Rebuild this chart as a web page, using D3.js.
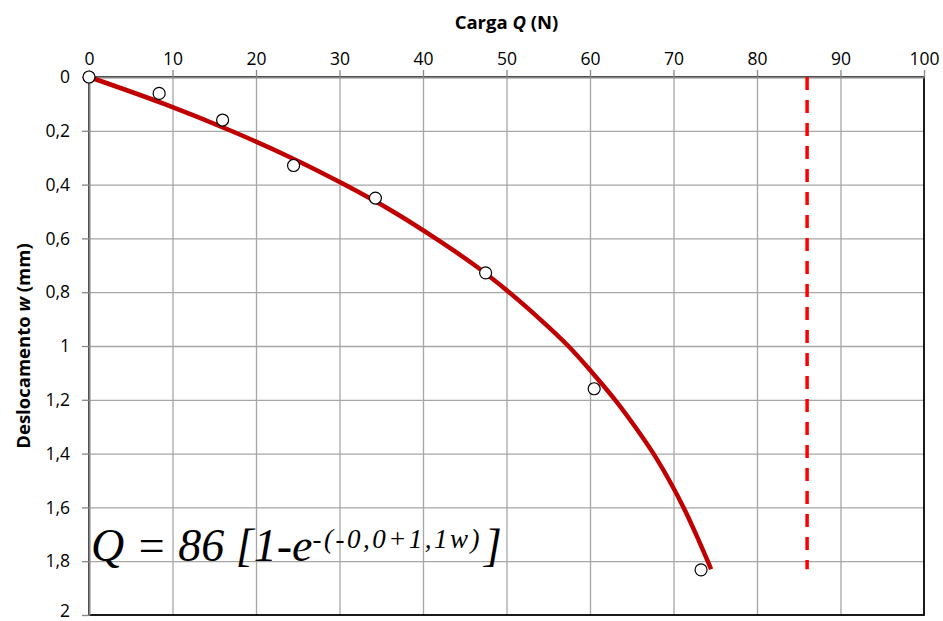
<!DOCTYPE html>
<html>
<head>
<meta charset="utf-8">
<script src="https://cdn.jsdelivr.net/npm/d3@7"></script>
<style>
  body { margin: 0; background: #fff; }
  .tick text { font-family: "Open Sans", sans-serif; font-size: 17.5px; fill: #000; }
</style>
</head>
<body>
<script>
// chart size and margins (plot box from ~89,77 to ~924,615)
var width = 943,
	height = 621,
	margin = {top: 77, right: 19, bottom: 6, left: 89};

// measured points: load Q (N) and displacement w (mm)
var cargaQ = [0, 8.4, 16.0, 24.5, 34.3, 47.5, 60.5, 73.3];
var deslocW = [0, 0.061, 0.160, 0.329, 0.450, 0.728, 1.159, 1.832];

// fitted curve
var curvaW = [0, 0.1, 0.2, 0.3, 0.4, 0.5, 0.6, 0.7, 0.8, 0.9, 1.0, 1.1, 1.2, 1.3, 1.4, 1.5, 1.6, 1.7, 1.8, 1.83];
var curvaQ = [0, 9.0, 17.0, 24.2, 30.6, 36.4, 41.5, 46.2, 50.3, 54.0, 57.4, 60.3, 63.0, 65.4, 67.6, 69.5, 71.2, 72.7, 74.1, 74.5];

// asymptote Q ult
var qUlt = 86,
	qUltW = [0, 1.83];

// tick labels
var xTicks = [0, 10, 20, 30, 40, 50, 60, 70, 80, 90, 100];
var yTicks = [0, 0.2, 0.4, 0.6, 0.8, 1, 1.2, 1.4, 1.6, 1.8, 2];

var svg = d3.select('body').append('svg')
	.attr('width', width)
	.attr('height', height);

var w = width - margin.left - margin.right,
	h = height - margin.top - margin.bottom;

var xScale = d3.scaleLinear().domain([0, 100]).range([0, w]),
	yScale = d3.scaleLinear().domain([0, 2]).range([0, h]);

var fmt = function(d) { return String(d).replace('.', ','); };

var g = svg.append('g')
	.attr('transform', 'translate(' + margin.left + ',' + margin.top + ')');

// gridlines
g.append('g')
	.attr('class', 'grid')
	.call(d3.axisTop(xScale).tickValues(xTicks.slice(1, -1)).tickSize(-h).tickFormat(''))
	.call(function(s) { s.select('.domain').remove(); })
	.selectAll('line').attr('stroke', '#a6a6a6').attr('stroke-width', 1.3);

g.append('g')
	.attr('class', 'grid')
	.call(d3.axisLeft(yScale).tickValues(yTicks.slice(1, -1)).tickSize(-w).tickFormat(''))
	.call(function(s) { s.select('.domain').remove(); })
	.selectAll('line').attr('stroke', '#a6a6a6').attr('stroke-width', 1.3);

// right and bottom border
g.append('rect')
	.attr('x', 0).attr('y', 0)
	.attr('width', w).attr('height', h)
	.attr('fill', 'none')
	.attr('stroke', '#000')
	.attr('stroke-width', 1.8);

// x axis on top
var xAxis = g.append('g')
	.call(d3.axisTop(xScale).tickValues(xTicks).tickSize(7).tickSizeOuter(0).tickPadding(5).tickFormat(fmt));
xAxis.select('.domain').attr('stroke', '#868686').attr('stroke-width', 2);
xAxis.selectAll('.tick line').attr('stroke', '#868686').attr('stroke-width', 1.3);

// y axis on left
var yAxis = g.append('g')
	.call(d3.axisLeft(yScale).tickValues(yTicks).tickSize(7).tickSizeOuter(0).tickPadding(12).tickFormat(fmt));
yAxis.select('.domain').attr('stroke', '#868686').attr('stroke-width', 2);
yAxis.selectAll('.tick line').attr('stroke', '#868686').attr('stroke-width', 1.3);
// last label sits on the window edge, nudge it up a touch
yAxis.selectAll('.tick text').filter(function(d) { return d === 2; }).attr('dy', '0.1em');

// axis titles
svg.append('text')
	.attr('x', margin.left + w / 2)
	.attr('y', 29)
	.attr('text-anchor', 'middle')
	.style('font-family', '"Open Sans", sans-serif')
	.style('font-weight', 'bold')
	.style('font-size', '18.5px')
	.html('Carga <tspan font-style="italic">Q</tspan> (N)');

svg.append('text')
	.attr('transform', 'translate(30,' + (margin.top + h / 2) + ') rotate(-90)')
	.attr('text-anchor', 'middle')
	.style('font-family', '"Open Sans", sans-serif')
	.style('font-weight', 'bold')
	.style('font-size', '18.5px')
	.html('Deslocamento <tspan font-style="italic">w</tspan> (mm)');

// asymptote dashed line
g.append('line')
	.attr('x1', xScale(qUlt)).attr('x2', xScale(qUlt))
	.attr('y1', yScale(qUltW[0])).attr('y2', yScale(qUltW[1]))
	.attr('stroke', '#ff0000')
	.attr('stroke-width', 3.5)
	.attr('stroke-dasharray', '13,10');

// fitted curve
var curva = curvaW.map(function(d, i) { return {w: d, q: curvaQ[i]}; });
var line = d3.line()
	.x(function(d) { return xScale(d.q); })
	.y(function(d) { return yScale(d.w); })
	.curve(d3.curveCatmullRom);

g.append('path')
	.datum(curva)
	.attr('d', line)
	.attr('fill', 'none')
	.attr('stroke', '#c00000')
	.attr('stroke-width', 4.5)
	.attr('stroke-linecap', 'butt');

// measured points
var pts = cargaQ.map(function(d, i) { return {q: d, w: deslocW[i]}; });
g.selectAll('.pt')
	.data(pts)
	.enter().append('circle')
	.attr('class', 'pt')
	.attr('cx', function(d) { return xScale(d.q); })
	.attr('cy', function(d) { return yScale(d.w); })
	.attr('r', 6)
	.attr('fill', '#fff')
	.attr('stroke', '#000')
	.attr('stroke-width', 1.2);

// equation label
var eq = svg.append('text')
	.attr('x', 91)
	.attr('y', 561)
	.style('font-family', '"Liberation Serif", serif')
	.style('font-style', 'italic')
	.style('font-size', '46px');
eq.append('tspan').text('Q = 86 [1-e');
eq.append('tspan').attr('dy', -13).style('font-size', '27px').attr('letter-spacing', 2.5).text('-(-0,0+1,1w)');
eq.append('tspan').attr('dy', 13).attr('dx', 2).text(']');
</script>
</body>
</html>
